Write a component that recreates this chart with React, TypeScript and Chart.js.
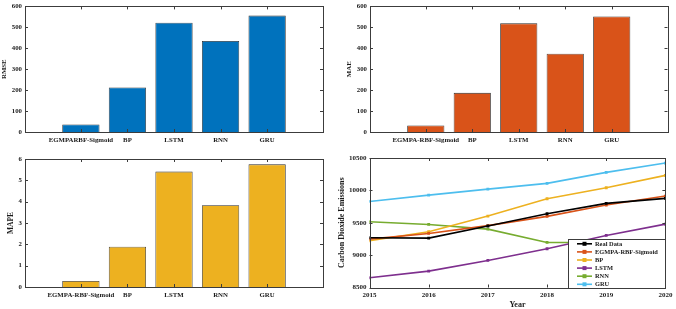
import React, { useEffect, useRef } from "react";
import { Chart, registerables } from "chart.js";

Chart.register(...registerables);

// ---------------- data ----------------
const rmseCategories = ["EGMPARBF-Sigmoid", "BP", "LSTM", "RNN", "GRU"];
const categories = ["EGMPA-RBF-Sigmoid", "BP", "LSTM", "RNN", "GRU"];
const rmseValues = [36, 213, 522, 435, 556];
const maeValues = [31, 187, 519, 374, 552];
const mapeValues = [0.28, 1.89, 5.41, 3.83, 5.75];

const errorTicks = [0, 100, 200, 300, 400, 500, 600];
const mapeTicks = [0, 1, 2, 3, 4, 5, 6];

const years = [2015, 2016, 2017, 2018, 2019, 2020];
const realData = [9268, 9263, 9450, 9639, 9799, 9876];
const egmpaData = [9247, 9335, 9455, 9598, 9773, 9912];
const bpData = [9221, 9361, 9603, 9871, 10041, 10232];
const lstmData = [8650, 8753, 8918, 9098, 9304, 9479];
const rnnData = [9515, 9474, 9402, 9196, 9196, 9196];
const gruData = [9829, 9927, 10020, 10108, 10278, 10422];
const seriesNames = ["Real Data", "EGMPA-RBF-Sigmoid", "BP", "LSTM", "RNN", "GRU"];
const emissionTicks = [8500, 9000, 9500, 10000, 10500];

// ---------------- styling ----------------
const FONT = "'Liberation Serif', 'Times New Roman', serif";
const AX = "#3c3c3c";
const TXT = "#1a1a1a";
const seriesColors = ["#000000", "#D95319", "#EDB120", "#7E2F8E", "#77AC30", "#4DBEEE"];

type Geom = {
  left: number; top: number; w: number; h: number;
  aL: number; aR: number; aT: number; aB: number;
};

const boxPlugin = {
  id: "boxTicks",
  afterDraw(chart: any) {
    const { ctx, chartArea: a } = chart;
    const xs = chart.scales.x;
    const ys = chart.scales.y;
    const tl = 3;
    ctx.save();
    ctx.strokeStyle = AX;
    ctx.lineWidth = 1;
    ctx.beginPath();
    for (const t of ys.ticks) {
      const y = Math.round(ys.getPixelForValue(t.value)) + 0.5;
      ctx.moveTo(a.left, y); ctx.lineTo(a.left + tl, y);
      ctx.moveTo(a.right, y); ctx.lineTo(a.right - tl, y);
    }
    for (const t of xs.ticks) {
      const x = Math.round(xs.getPixelForValue(t.value)) + 0.5;
      ctx.moveTo(x, a.bottom); ctx.lineTo(x, a.bottom - tl);
      ctx.moveTo(x, a.top); ctx.lineTo(x, a.top + tl);
    }
    ctx.stroke();
    ctx.strokeRect(Math.round(a.left) + 0.5, Math.round(a.top) + 0.5,
      Math.round(a.right) - Math.round(a.left), Math.round(a.bottom) - Math.round(a.top));
    ctx.restore();
  },
};

const legendPlugin = {
  id: "legendBox",
  afterDraw(chart: any) {
    const { ctx, chartArea: a } = chart;
    const w = 97, h = 49;
    const x0 = Math.round(a.right) - w, y0 = Math.round(a.bottom) - h;
    ctx.save();
    ctx.fillStyle = "#ffffff";
    ctx.fillRect(x0, y0, w, h);
    ctx.strokeStyle = AX;
    ctx.lineWidth = 1;
    ctx.strokeRect(x0 + 0.5, y0 + 0.5, w, h);
    ctx.font = `bold 6.4px ${FONT}`;
    ctx.textBaseline = "middle";
    ctx.textAlign = "left";
    chart.data.datasets.forEach((ds: any, i: number) => {
      const y = y0 + 4.8 + i * 8.1;
      ctx.strokeStyle = ds.borderColor;
      ctx.lineWidth = 1.6;
      ctx.beginPath();
      ctx.moveTo(x0 + 9, y);
      ctx.lineTo(x0 + 24, y);
      ctx.stroke();
      ctx.fillStyle = ds.borderColor;
      ctx.fillRect(x0 + 14.5, y - 2, 4, 4);
      ctx.fillStyle = TXT;
      ctx.fillText(ds.label, x0 + 27, y + 0.3);
    });
    ctx.restore();
  },
};

function barConfig(
  cats: string[], values: number[], color: string, ticks: number[],
  title: string, titleSize: number, titlePad: number, xPad: number, g: Geom
) {
  return {
    type: "bar",
    data: {
      datasets: [{
        data: values.map((v, i) => ({ x: i + 1, y: v })),
        backgroundColor: color,
        borderColor: "#2a2a2a",
        borderWidth: 0.8,
        barPercentage: 0.8,
        categoryPercentage: 1,
      }],
    },
    options: {
      animation: false,
      responsive: false,
      devicePixelRatio: 1,
      layout: { padding: { left: 0, top: g.aT, right: g.w - g.aR, bottom: 0 } },
      plugins: { legend: { display: false }, tooltip: { enabled: false } },
      scales: {
        x: {
          type: "linear",
          min: -0.2,
          max: 6.2,
          offset: false,
          grid: { display: false, drawTicks: false },
          border: { display: false },
          afterBuildTicks: (s: any) => { s.ticks = cats.map((_, i) => ({ value: i + 1 })); },
          afterFit: (s: any) => { s.height = g.h - g.aB; },
          ticks: {
            autoSkip: false, maxRotation: 0, minRotation: 0, padding: xPad, color: TXT,
            font: { family: FONT, size: 6.8, weight: "bold" },
            callback: (v: any) => cats[Math.round(v) - 1] ?? "",
          },
        },
        y: {
          type: "linear",
          min: ticks[0],
          max: ticks[ticks.length - 1],
          grid: { display: false, drawTicks: false },
          border: { display: false },
          afterBuildTicks: (s: any) => { s.ticks = ticks.map((v) => ({ value: v })); },
          afterFit: (s: any) => { s.width = g.aL; },
          ticks: {
            padding: 3, color: TXT,
            font: { family: FONT, size: 6.8, weight: "bold", lineHeight: 1 },
            callback: (v: any) => String(v),
          },
          title: {
            display: true, text: title, color: TXT,
            font: { family: FONT, size: titleSize, weight: "bold", lineHeight: 1.2 },
            padding: { top: titlePad, bottom: 0 },
          },
        },
      },
    },
    plugins: [boxPlugin],
  };
}

function lineConfig(g: Geom) {
  const all = [realData, egmpaData, bpData, lstmData, rnnData, gruData];
  return {
    type: "line",
    data: {
      datasets: all.map((arr, i) => ({
        label: seriesNames[i],
        data: arr.map((v, j) => ({ x: years[j], y: v })),
        borderColor: seriesColors[i],
        backgroundColor: seriesColors[i],
        borderWidth: 1.6,
        pointStyle: "rect",
        pointRadius: 2,
        pointBorderWidth: 0,
        tension: 0,
      })),
    },
    options: {
      animation: false,
      responsive: false,
      devicePixelRatio: 1,
      layout: { padding: { left: 0, top: g.aT, right: g.w - g.aR, bottom: 0 } },
      plugins: { legend: { display: false }, tooltip: { enabled: false } },
      scales: {
        x: {
          type: "linear",
          min: years[0],
          max: years[years.length - 1],
          offset: false,
          grid: { display: false, drawTicks: false },
          border: { display: false },
          afterBuildTicks: (s: any) => { s.ticks = years.map((v) => ({ value: v })); },
          afterFit: (s: any) => { s.height = g.h - g.aB; },
          ticks: {
            autoSkip: false, maxRotation: 0, minRotation: 0, padding: 3.6, color: TXT,
            font: { family: FONT, size: 7, weight: "bold" },
            callback: (v: any) => String(v),
          },
          title: {
            display: true, text: "Year", color: TXT,
            font: { family: FONT, size: 8, weight: "bold", lineHeight: 1 },
            padding: { top: 0, bottom: 0 },
          },
        },
        y: {
          type: "linear",
          min: emissionTicks[0],
          max: emissionTicks[emissionTicks.length - 1],
          grid: { display: false, drawTicks: false },
          border: { display: false },
          afterBuildTicks: (s: any) => { s.ticks = emissionTicks.map((v) => ({ value: v })); },
          afterFit: (s: any) => { s.width = g.aL; },
          ticks: {
            padding: 3, color: TXT,
            font: { family: FONT, size: 7, weight: "bold", lineHeight: 1 },
            callback: (v: any) => String(v),
          },
          title: {
            display: true, text: "Carbon Dioxide Emissions", color: TXT,
            font: { family: FONT, size: 8, weight: "bold", lineHeight: 1 },
            padding: { top: 0, bottom: 0 },
          },
        },
      },
    },
    plugins: [boxPlugin, legendPlugin],
  };
}

function ChartBox({ geom, build }: { geom: Geom; build: () => any }) {
  const ref = useRef<HTMLCanvasElement>(null);
  useEffect(() => {
    const chart = new Chart(ref.current as HTMLCanvasElement, build());
    return () => chart.destroy();
  }, []);
  return (
    <canvas
      ref={ref}
      width={geom.w}
      height={geom.h}
      style={{ position: "absolute", left: geom.left, top: geom.top, width: geom.w, height: geom.h }}
    />
  );
}

const gTL: Geom = { left: 0, top: 0, w: 338, h: 150, aL: 25, aR: 323, aT: 4, aB: 132 };
const gTR: Geom = { left: 338, top: 0, w: 338, h: 150, aL: 32, aR: 329.5, aT: 4, aB: 132 };
const gBL: Geom = { left: 0, top: 150, w: 338, h: 159, aL: 25, aR: 323, aT: 9, aB: 137 };
const gBR: Geom = { left: 338, top: 150, w: 338, h: 159, aL: 31.5, aR: 330, aT: 8, aB: 137.5 };

export default function App() {
  return (
    <div style={{ position: "absolute", left: 0, top: 0, width: 676, height: 309, background: "#fff", overflow: "hidden" }}>
      <ChartBox geom={gTL} build={() => barConfig(rmseCategories, rmseValues, "#0072BD", errorTicks, "RMSE", 6.8, 0.6, 3.9, gTL)} />
      <ChartBox geom={gTR} build={() => barConfig(categories, maeValues, "#D95319", errorTicks, "MAE", 6.8, 6.9, 3.9, gTR)} />
      <ChartBox geom={gBL} build={() => barConfig(categories, mapeValues, "#EDB120", mapeTicks, "MAPE", 7.5, 6.2, 4.6, gBL)} />
      <ChartBox geom={gBR} build={() => lineConfig(gBR)} />
    </div>
  );
}
